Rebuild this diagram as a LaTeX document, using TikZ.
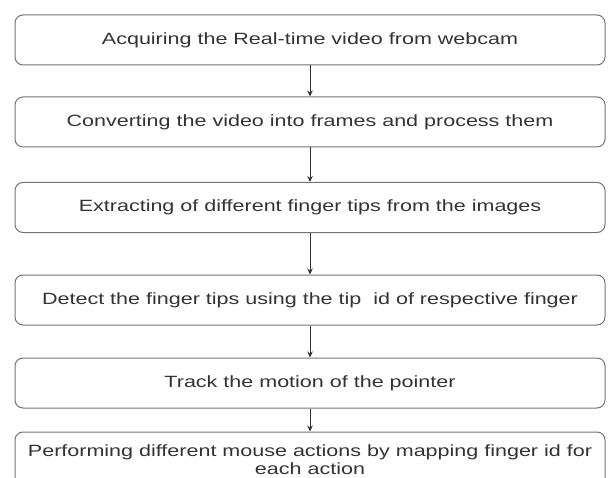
\documentclass[tikz,border=0pt]{standalone}
\usepackage{fontspec}
\setmainfont{Liberation Sans}[FakeStretch=1.32]
\usetikzlibrary{arrows.meta}
\begin{document}
\begin{tikzpicture}[x=1pt,y=-1pt,
  stepbox/.style={draw=black!55, line width=1pt, rounded corners=8pt,
    minimum width=590pt, minimum height=50pt, inner sep=2pt, align=center,
    text=black!80, font=\fontsize{16.3}{20}\selectfont},
  flow/.style={draw=black!80, line width=0.9pt, -{Stealth[length=6pt,width=5.5pt]}}]
  \useasboundingbox (0,0) rectangle (609,478);
  \clip (0,0) rectangle (609,478);
  \node[stepbox] (s1) at (310,40)  {Acquiring the Real-time video from webcam};
  \node[stepbox] (s2) at (310,122) {Converting the video into frames and process them};
  \node[stepbox] (s3) at (310,207.5) {Extracting of different finger tips from the images};
  \node[stepbox] (s4) at (310,300) {Detect the finger tips using the tip\ \ id of respective finger};
  \node[stepbox] (s5) at (310,383) {Track the motion of the pointer};
  \node[stepbox, minimum height=56pt] (s6) at (310,460)
    {Performing different mouse actions by mapping finger id for\\[-2pt] each action};
  \draw[flow] (s1) -- (s2);
  \draw[flow] (s2) -- (s3);
  \draw[flow] (s3) -- (s4);
  \draw[flow] (s4) -- (s5);
  \draw[flow] (s5) -- (s6);
\end{tikzpicture}
\end{document}
